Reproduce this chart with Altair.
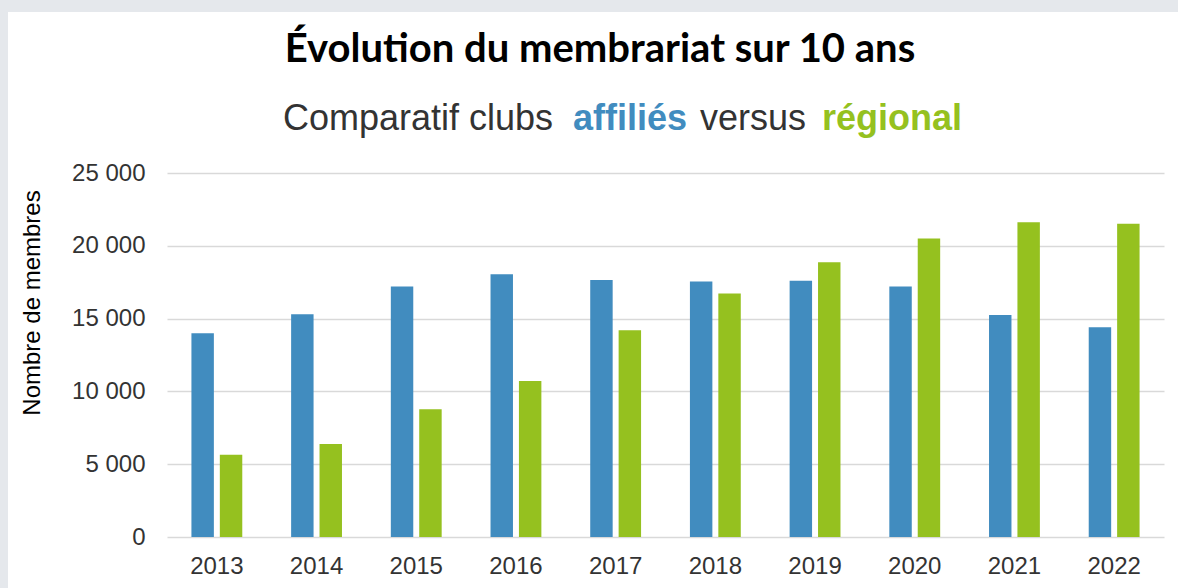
import altair as alt
import pandas as pd

years = ["2013", "2014", "2015", "2016", "2017", "2018", "2019", "2020", "2021", "2022"]
affilies = [14000, 15300, 17200, 18050, 17650, 17550, 17600, 17200, 15250, 14400]
regional = [5650, 6380, 8770, 10720, 14200, 16730, 18870, 20500, 21620, 21520]
series = ["affiliés", "régional"]
colors = ["#418CBF", "#95C11F"]
y_ticks = [0, 5000, 10000, 15000, 20000, 25000]

title_text = "Évolution du membrariat sur 10 ans"
sub_parts = ["Comparatif clubs", "affiliés", "versus", "régional"]
y_title = "Nombre de membres"

rows = []
for i, yr in enumerate(years):
    rows.append({"annee": yr, "serie": series[0], "membres": affilies[i]})
    rows.append({"annee": yr, "serie": series[1], "membres": regional[i]})
df = pd.DataFrame(rows)
one = pd.DataFrame({"k": [0]})

W, H = 997, 364
GRAY = "#e5e8ec"

bars = alt.Chart(df).mark_bar().encode(
    x=alt.X("annee:N", sort=years,
            scale=alt.Scale(paddingInner=0.49, paddingOuter=0.245),
            axis=alt.Axis(title=None, labelAngle=0, ticks=False, domain=False,
                          labelFont="Liberation Sans", labelFontSize=24,
                          labelColor="#333333", labelPadding=17)),
    xOffset=alt.XOffset("serie:N", sort=series,
                        scale=alt.Scale(paddingInner=0.21, paddingOuter=0)),
    y=alt.Y("membres:Q", scale=alt.Scale(domain=[0, 25000], nice=False),
            axis=alt.Axis(title=None, values=y_ticks, ticks=False, domain=False,
                          grid=True, gridColor="#d9d9d9", gridWidth=1.5,
                          labelFont="Liberation Sans", labelFontSize=24,
                          labelColor="#333333", labelPadding=22,
                          labelExpr="replace(format(datum.value, ',d'), ',', ' ')")),
    color=alt.Color("serie:N", scale=alt.Scale(domain=series, range=colors), legend=None),
)

# gray frame strips (outside the plot area)
top_strip = alt.Chart(one).mark_rect(color=GRAY).encode(
    x=alt.value(-167), x2=alt.value(W + 14), y=alt.value(-173), y2=alt.value(-161))
left_strip = alt.Chart(one).mark_rect(color=GRAY).encode(
    x=alt.value(-167), x2=alt.value(-159), y=alt.value(-173), y2=alt.value(H + 51))

title = alt.Chart(one).mark_text(
    text=title_text, font="Lato", fontWeight="bold", fontSize=40, color="#000000",
    align="center", baseline="alphabetic").encode(x=alt.value(433), y=alt.value(-111))

sub_specs = [
    (sub_parts[0], 116, "#333333", "normal"),
    (sub_parts[1], 406, colors[0], "bold"),
    (sub_parts[2], 533, "#333333", "normal"),
    (sub_parts[3], 655, colors[1], "bold"),
]
subs = [
    alt.Chart(one).mark_text(text=t, font="Liberation Sans", fontWeight=w, fontSize=36,
                             color=c, align="left", baseline="alphabetic"
                             ).encode(x=alt.value(xp), y=alt.value(-43))
    for t, xp, c, w in sub_specs
]

ytitle = alt.Chart(one).mark_text(
    text=y_title, font="Liberation Sans", fontSize=24, color="#000000", angle=270,
    align="center", baseline="middle").encode(x=alt.value(-134), y=alt.value(130))

chart = alt.layer(top_strip, left_strip, bars, title, *subs, ytitle).properties(
    width=W, height=H,
    autosize=alt.AutoSizeParams(type="none"),
    padding={"left": 167, "top": 173, "right": 14, "bottom": 51},
    background="#ffffff",
).configure_view(strokeWidth=0)

chart.save("out.html", embed_options={"renderer": "svg", "actions": False})
